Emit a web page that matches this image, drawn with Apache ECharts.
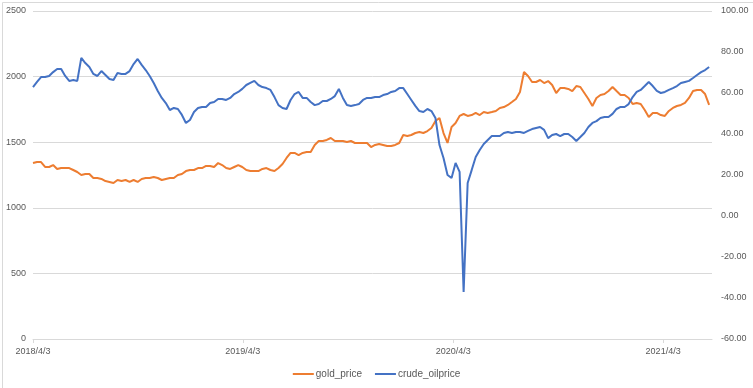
<!DOCTYPE html>
<html><head><meta charset="utf-8">
<script src="https://cdn.jsdelivr.net/npm/echarts@6/dist/echarts.min.js"></script>
<style>html,body{margin:0;padding:0;background:#fff}#c{width:753px;height:388px}</style>
</head><body><div id="c"></div>
<script>
// weekly samples starting 2018/4/3
const startDate = [2018, 3, 3];
const sampleStepDays = 7;
const axisEndDate = [2021, 5, 27];
const tickLabels = ['2018/4/3', '2019/4/3', '2020/4/3', '2021/4/3'];
const seriesNames = ['gold_price', 'crude_oilprice'];
const leftTicks = [0, 500, 1000, 1500, 2000, 2500];
const rightTicks = [-60, -40, -20, 0, 20, 40, 60, 80, 100];

const goldPrice = [
  1341, 1349, 1349, 1311, 1311, 1326, 1296, 1303, 1303, 1303,
  1288, 1273, 1250, 1258, 1258, 1227, 1227, 1220, 1204, 1197,
  1189, 1212, 1204, 1212, 1197, 1212, 1197, 1220, 1227, 1227,
  1235, 1227, 1212, 1220, 1227, 1227, 1250, 1258, 1280, 1288,
  1288, 1303, 1303, 1319, 1319, 1311, 1341, 1326, 1303, 1296,
  1311, 1326, 1311, 1288, 1280, 1280, 1280, 1296, 1303, 1288,
  1280, 1303, 1334, 1380, 1418, 1418, 1402, 1418, 1425, 1425,
  1479, 1509, 1509, 1517, 1532, 1509, 1509, 1509, 1502, 1509,
  1494, 1494, 1494, 1494, 1463, 1479, 1486, 1479, 1471, 1471,
  1479, 1494, 1555, 1547, 1555, 1570, 1578, 1570, 1585, 1608,
  1662, 1684, 1570, 1494, 1616, 1646, 1700, 1715, 1700, 1707,
  1723, 1707, 1730, 1723, 1730, 1738, 1761, 1768, 1784, 1806,
  1829, 1883, 2035, 2005, 1959, 1959, 1974, 1951, 1966, 1936,
  1875, 1913, 1913, 1906, 1890, 1928, 1921, 1875, 1829, 1776,
  1837, 1860, 1867, 1890, 1921, 1890, 1860, 1860, 1837, 1791,
  1799, 1791, 1745, 1692, 1723, 1723, 1707, 1700, 1738, 1761,
  1776, 1784, 1799, 1837, 1890, 1898, 1898, 1867, 1784
];

const crudeOilPrice = [
  62.9, 65.4, 67.8, 67.8, 68.3, 70.2, 71.7, 71.7, 68.3, 65.9,
  66.3, 65.9, 77.1, 74.6, 72.7, 69.3, 68.3, 70.7, 68.8, 66.8,
  66.3, 69.8, 69.3, 69.3, 70.7, 74.1, 76.6, 73.7, 71.2, 68.3,
  64.9, 61.0, 57.6, 55.1, 51.7, 52.7, 52.2, 49.3, 45.4, 46.8,
  50.7, 52.7, 53.2, 53.2, 55.1, 55.6, 57.1, 57.1, 56.6, 57.6,
  59.5, 60.5, 62.0, 63.9, 64.9, 65.9, 63.9, 62.9, 62.4, 61.5,
  58.0, 54.1, 52.7, 52.2, 56.6, 59.5, 60.5, 57.6, 57.6, 55.6,
  54.1, 54.6, 56.1, 56.1, 57.1, 58.5, 62.0, 57.6, 54.1, 53.7,
  54.1, 54.6, 56.6, 57.6, 57.6, 58.0, 58.0, 59.0, 59.5, 60.5,
  61.0, 62.4, 62.4, 59.5, 56.6, 53.7, 51.2, 50.7, 52.2, 51.2,
  47.8, 34.6, 28.3, 20.0, 18.5, 25.9, 21.5, -37.1, 16.1, 22.4,
  28.8, 32.2, 35.1, 37.1, 39.0, 39.0, 39.0, 40.5, 41.0, 40.5,
  41.0, 41.0, 40.5, 41.5, 42.4, 42.9, 43.4, 42.0, 38.0, 39.5,
  40.0, 39.0, 40.0, 40.0, 38.5, 36.6, 38.5, 40.5, 43.4, 45.4,
  46.3, 47.8, 48.3, 48.3, 49.8, 52.2, 53.2, 53.2, 54.6, 58.0,
  60.5, 61.5, 63.4, 65.4, 63.4, 61.0, 60.0, 60.5, 61.5, 62.4,
  63.4, 64.9, 65.4, 65.9, 67.3, 68.8, 70.2, 71.2, 72.7
];

const DAY = 86400000;
const t0 = Date.UTC(startDate[0], startDate[1], startDate[2]);
function dayOffset(y, m, d) { return Math.round((Date.UTC(y, m, d) - t0) / DAY); }
function parseLabel(s) {
  const p = s.split('/').map(Number);
  return dayOffset(p[0], p[1] - 1, p[2]);
}
function fmtDay(v) {
  const d = new Date(t0 + v * DAY);
  return d.getUTCFullYear() + '/' + (d.getUTCMonth() + 1) + '/' + d.getUTCDate();
}
const tickDays = tickLabels.map(parseLabel);
const goldData = goldPrice.map((v, i) => [i * sampleStepDays, v]);
const oilData = crudeOilPrice.map((v, i) => [i * sampleStepDays, v]);

const FONT = 'Liberation Sans';
const TXT = '#595959';
const GRID = '#d9d9d9';

const chart = echarts.init(document.getElementById('c'), null, { renderer: 'canvas' });
chart.setOption({
  animation: false,
  backgroundColor: '#ffffff',
  textStyle: { fontFamily: FONT },
  graphic: [{
    type: 'rect', left: 0, top: 0, silent: true, z: -10,
    shape: { x: 0.5, y: 0.5, width: 752, height: 387 },
    style: { fill: 'none', stroke: GRID, lineWidth: 1 }
  }],
  grid: { left: 33, right: 41, top: 11, bottom: 49, containLabel: false },
  legend: {
    data: seriesNames,
    left: 'center', top: 364,
    icon: 'rect', itemWidth: 21, itemHeight: 2, itemGap: 13,
    textStyle: { fontFamily: FONT, fontSize: 10, color: TXT, padding: [0, 0, 0, -3] }
  },
  xAxis: {
    type: 'value',
    min: 0,
    max: dayOffset(axisEndDate[0], axisEndDate[1], axisEndDate[2]),
    axisLine: { show: true, onZero: false, lineStyle: { color: GRID, width: 1 } },
    axisTick: { show: true, customValues: tickDays, length: 4, lineStyle: { color: GRID } },
    axisLabel: {
      customValues: tickDays, formatter: v => fmtDay(v),
      color: TXT, fontFamily: FONT, fontSize: 9, margin: 8,
      showMinLabel: true, showMaxLabel: true
    },
    splitLine: { show: false }
  },
  yAxis: [{
    type: 'value', min: leftTicks[0], max: leftTicks[leftTicks.length - 1], interval: 500,
    axisLine: { show: false }, axisTick: { show: false },
    axisLabel: { color: TXT, fontFamily: FONT, fontSize: 9, margin: 7, formatter: v => String(v) },
    splitLine: { show: true, lineStyle: { color: GRID, width: 1 } }
  }, {
    type: 'value', min: rightTicks[0], max: rightTicks[rightTicks.length - 1], interval: 20,
    position: 'right',
    axisLine: { show: false }, axisTick: { show: false },
    axisLabel: { color: TXT, fontFamily: FONT, fontSize: 9, margin: 9, formatter: v => v.toFixed(2) },
    splitLine: { show: false }
  }],
  series: [{
    name: seriesNames[0], type: 'line', yAxisIndex: 0, data: goldData,
    showSymbol: false, symbol: 'none', color: '#ED7D31',
    lineStyle: { width: 2, color: '#ED7D31' }, z: 2
  }, {
    name: seriesNames[1], type: 'line', yAxisIndex: 1, data: oilData,
    showSymbol: false, symbol: 'none', color: '#4472C4',
    lineStyle: { width: 2, color: '#4472C4' }, z: 3
  }]
});
</script>
</body></html>
